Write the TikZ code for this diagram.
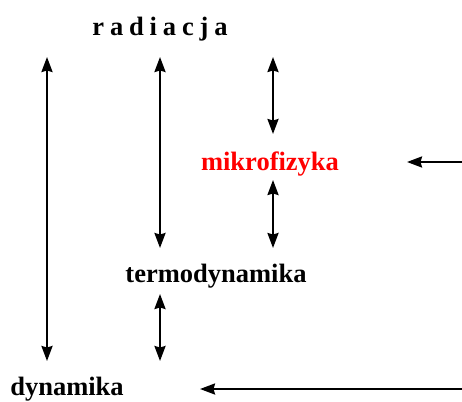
\documentclass[tikz,border=0pt]{standalone}
\usepackage{fontspec}
\setmainfont{Liberation Serif}
\usetikzlibrary{arrows.meta}
\begin{document}
\begin{tikzpicture}[x=1pt,y=-1pt,
  lbl/.style={font=\fontsize{26.5}{30}\selectfont\bfseries, inner sep=0pt, anchor=base},
  tip/.tip={Stealth[length=15pt,width=11pt,inset=1.5pt]},
  arr/.style={line width=2.2pt, -tip},
  darr/.style={line width=2.2pt, tip-tip}]
\useasboundingbox (0,0) rectangle (462,401);
\node[lbl] (rad) at (160,36) {r\hspace{0.22em}a\hspace{0.22em}d\hspace{0.22em}i\hspace{0.22em}a\hspace{0.22em}c\hspace{0.22em}j\hspace{0.22em}a};
\node[lbl, text=red] (mik) at (270,170) {mikrofizyka};
\node[lbl] (ter) at (216,282) {termodynamika};
\node[lbl] (dyn) at (67,395) {dynamika};
\coordinate (a1t) at (47,57);  \coordinate (a1b) at (47,361);
\coordinate (a2t) at (160,57); \coordinate (a2b) at (160,248);
\coordinate (a3t) at (273,57); \coordinate (a3b) at (273,134);
\coordinate (a4t) at (273,180); \coordinate (a4b) at (273,248);
\coordinate (a5t) at (160,294); \coordinate (a5b) at (160,361);
\coordinate (r1) at (462,162); \coordinate (r1e) at (407,162);
\coordinate (r2) at (462,389); \coordinate (r2e) at (200,389);
\draw[darr] (a1t) -- (a1b);
\draw[darr] (a2t) -- (a2b);
\draw[darr] (a3t) -- (a3b);
\draw[darr] (a4t) -- (a4b);
\draw[darr] (a5t) -- (a5b);
\draw[arr] (r1) -- (r1e);
\draw[arr] (r2) -- (r2e);
\end{tikzpicture}
\end{document}
